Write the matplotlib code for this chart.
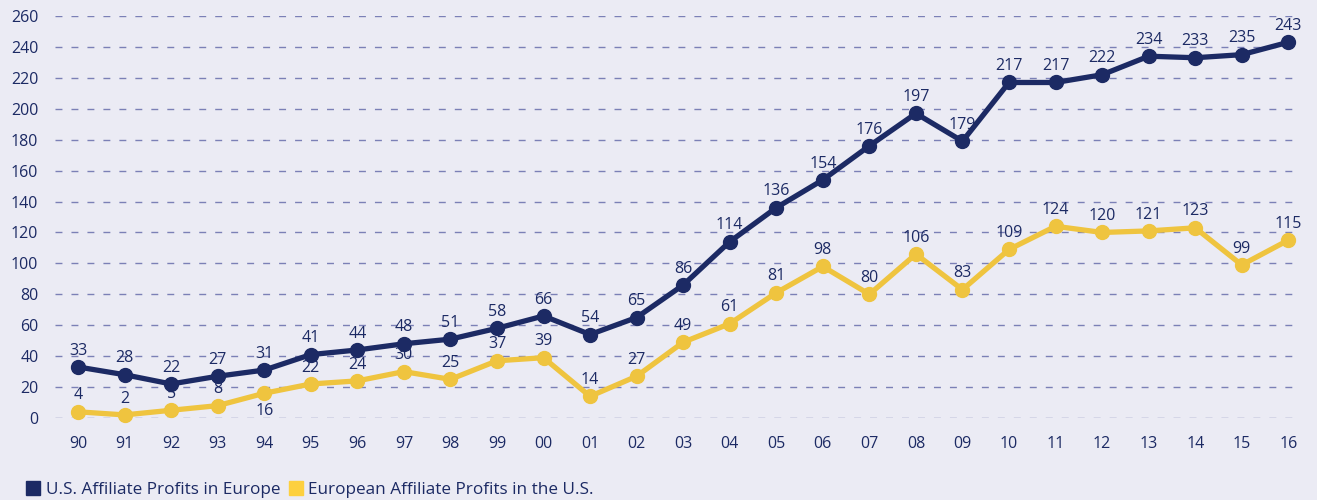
import matplotlib.pyplot as plt
import matplotlib.patches as mpatches

years = ['90', '91', '92', '93', '94', '95', '96', '97', '98', '99', '00', '01', '02',
         '03', '04', '05', '06', '07', '08', '09', '10', '11', '12', '13', '14', '15', '16']
us_in_europe = [33, 28, 22, 27, 31, 41, 44, 48, 51, 58, 66, 54, 65,
                86, 114, 136, 154, 176, 197, 179, 217, 217, 222, 234, 233, 235, 243]
europe_in_us = [4, 2, 5, 8, 16, 22, 24, 30, 25, 37, 39, 14, 27,
                49, 61, 81, 98, 80, 106, 83, 109, 124, 120, 121, 123, 99, 115]

navy = '#1C2A64'
yellow = '#EFC43F'
bg = '#EBEBF4'
grid_col = '#7B80B6'

plt.rcParams['font.family'] = ['Open Sans', 'DejaVu Sans']

fig = plt.figure(figsize=(13.17, 5.0), dpi=100)
fig.patch.set_facecolor(bg)
ax = fig.add_axes([0.0418, 0.164, 0.9424, 0.804])
ax.set_facecolor(bg)

x = list(range(len(years)))
ax.plot(x, us_in_europe, color=navy, lw=3.8, marker='o', ms=10, clip_on=False, zorder=3)
ax.plot(x, europe_in_us, color=yellow, lw=3.8, marker='o', ms=10, clip_on=False, zorder=3)

fs = 11.5
for i, v in enumerate(us_in_europe):
    ax.annotate(str(v), (i, v), xytext=(0, 6), textcoords='offset points',
                ha='center', va='bottom', color=navy, fontsize=fs)
for i, v in enumerate(europe_in_us):
    dy = -7 if years[i] == '94' else 6
    ax.annotate(str(v), (i, v), xytext=(0, dy), textcoords='offset points',
                ha='center', va='bottom' if dy > 0 else 'top', color=navy, fontsize=fs)

ax.set_xlim(-0.494, 26.17)
ax.set_ylim(0, 260)
ax.set_yticks(range(0, 261, 20))
ax.set_xticks(x)
ax.set_xticklabels(years)
ax.yaxis.grid(True, color=grid_col, ls=(0, (5, 6.5)), lw=1)
ax.set_axisbelow(True)
for s in ax.spines.values():
    s.set_visible(False)
ax.tick_params(axis='both', length=0, colors=navy, labelsize=fs)
ax.tick_params(axis='x', pad=13)
ax.tick_params(axis='y', pad=12)

handles = [mpatches.Patch(color=navy, label='U.S. Affiliate Profits in Europe'),
           mpatches.Patch(color='#FDD03F', label='European Affiliate Profits in the U.S.')]
leg = fig.legend(handles=handles, loc='lower left', bbox_to_anchor=(0.008, -0.026), ncol=2,
                 frameon=False, fontsize=12.3, handlelength=0.85, handleheight=0.85,
                 handletextpad=0.3, columnspacing=0.5, labelcolor=navy)

fig.savefig('out.png', dpi=100, facecolor=bg)
